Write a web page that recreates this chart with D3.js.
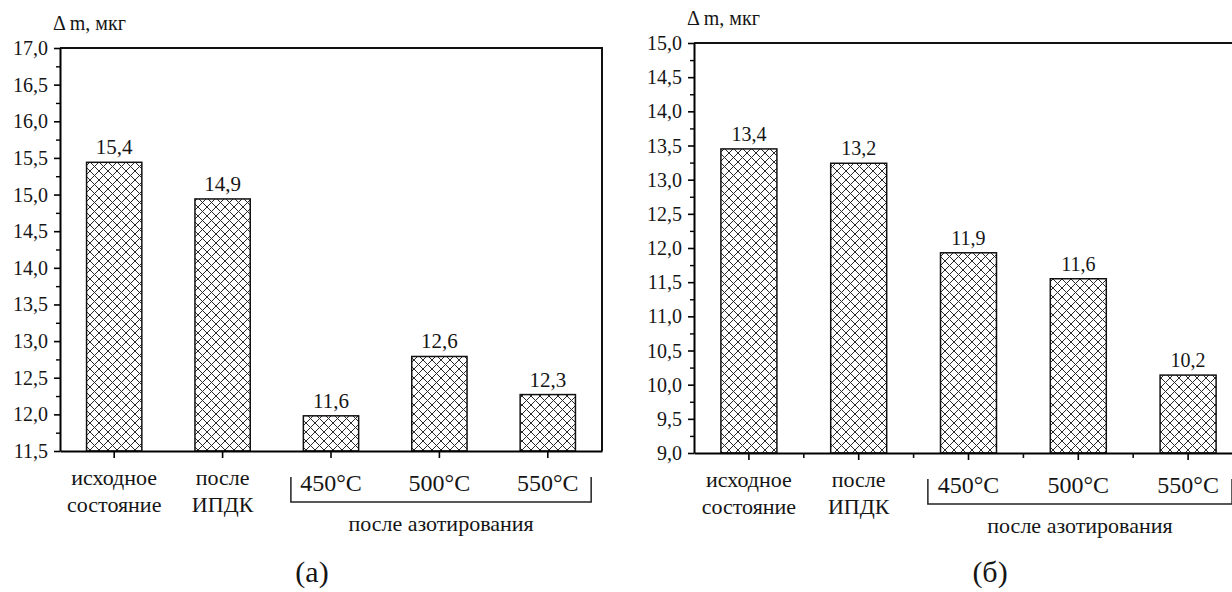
<!DOCTYPE html>
<head>
  <meta charset="utf-8">
  <script src="https://d3js.org/d3.v7.min.js"></script>
</head>
<body style="margin:0">
  <svg id="chart" width="1232" height="592"></svg>

  <script>

    // categories (label lines) shared by both panels
    var categories = [["исходное", "состояние"], ["после", "ИПДК"], ["450°C"], ["500°C"], ["550°C"]];
    var groupLabel = "после азотирования";
    var yTitle = "Δ m, мкг";

    // panel (а)
    var valuesA = [15.44, 14.94, 11.98, 12.79, 12.27];
    var labelsA = ["15,4", "14,9", "11,6", "12,6", "12,3"];
    var ticksA = [11.5, 12.0, 12.5, 13.0, 13.5, 14.0, 14.5, 15.0, 15.5, 16.0, 16.5, 17.0];

    // panel (б)
    var valuesB = [13.45, 13.24, 11.93, 11.55, 10.14];
    var labelsB = ["13,4", "13,2", "11,9", "11,6", "10,2"];
    var ticksB = [9.0, 9.5, 10.0, 10.5, 11.0, 11.5, 12.0, 12.5, 13.0, 13.5, 14.0, 14.5, 15.0];

    var captions = ["(а)", "(б)"];

    var svg = d3.select('#chart');
    var texts = [];   // all texts are collected here and drawn at the end

    // comma decimal separator
    var fmt = d3.formatLocale({ decimal: ",", thousands: " ", grouping: [3], currency: ["", ""] }).format(".1f");

    function label(x, y, size, anchor, s) {
      texts.push({ x: x, y: y, size: size, anchor: anchor, s: s });
    }

    // crosshatch pattern
    var pat = svg.append('defs').append('pattern')
      .attr('id', 'hatch')
      .attr('patternUnits', 'userSpaceOnUse')
      .attr('width', 9)
      .attr('height', 9);
    pat.append('rect').attr('width', 9).attr('height', 9).attr('fill', '#fff');
    pat.append('path')
      .attr('d', 'M0,0L9,9M9,0L0,9')
      .attr('stroke', '#2a2a2a')
      .attr('stroke-width', 1);

    function drawPanel(p) {
      var g = svg.append('g');
      var ticks = p.ticks;

      var x = d3.scaleBand()
        .domain(d3.range(p.values.length))
        .range([p.left, p.right])
        .paddingInner(0.49)
        .paddingOuter(0.245);

      var y = d3.scaleLinear()
        .domain([ticks[0], ticks[ticks.length - 1]])
        .range([p.bottom, p.top]);

      // bars
      g.selectAll('.bar')
        .data(p.values)
        .enter()
        .append('rect')
          .attr('x', function (d, i) { return x(i); })
          .attr('y', function (d) { return y(d); })
          .attr('width', x.bandwidth())
          .attr('height', function (d) { return y(ticks[0]) - y(d); })
          .attr('fill', 'url(#hatch)')
          .attr('stroke', '#111')
          .attr('stroke-width', 1.5);

      // value labels
      p.values.forEach(function (d, i) {
        label(x(i) + x.bandwidth() / 2, y(d) - 8, p.valueSize, 'middle', p.labels[i]);
      });

      // frame (top and right)
      g.append('path')
        .attr('d', 'M' + p.left + ',' + p.top + 'H' + p.right + 'V' + p.bottom)
        .attr('fill', 'none')
        .attr('stroke', '#111')
        .attr('stroke-width', 2);

      // y axis: lines from d3.axis, numbers placed from the same scale
      var yAxis = g.append('g')
        .attr('transform', 'translate(' + p.left + ',0)')
        .call(d3.axisLeft(y).tickValues(ticks).tickSize(6).tickSizeOuter(0).tickFormat(''));
      yAxis.select('.domain').attr('stroke-width', 2);
      yAxis.selectAll('line').attr('stroke-width', 1.6);
      ticks.forEach(function (t) {
        label(p.left - 12, y(t) + 7, 20, 'end', fmt(t));
      });

      var minor = d3.pairs(ticks).map(function (t) { return (t[0] + t[1]) / 2; });
      g.append('g')
        .attr('transform', 'translate(' + p.left + ',0)')
        .call(d3.axisLeft(y).tickValues(minor).tickSize(4).tickFormat(''))
        .call(function (a) { a.select('.domain').remove(); a.selectAll('line').attr('stroke-width', 1.4); });

      // x axis
      var xAxis = g.append('g')
        .attr('transform', 'translate(0,' + p.bottom + ')')
        .call(d3.axisBottom(x).tickSize(7).tickSizeOuter(0).tickFormat(''));
      xAxis.select('.domain').attr('stroke-width', 2);
      xAxis.selectAll('line').attr('stroke-width', 1.6);

      if (p.minorX) {
        var bounds = d3.range(1, p.values.length).map(function (i) { return x(i) - x.step() * x.paddingInner() / 2; });
        g.selectAll('.mx')
          .data(bounds)
          .enter()
          .append('line')
            .attr('x1', function (d) { return d; })
            .attr('x2', function (d) { return d; })
            .attr('y1', p.bottom)
            .attr('y2', p.bottom + 5)
            .attr('stroke', '#111')
            .attr('stroke-width', 1.6);
      }

      // category labels
      categories.forEach(function (lines, i) {
        lines.forEach(function (s, k) {
          label(x(i) + x.bandwidth() / 2,
            lines.length > 1 ? p.bottom + 34 + k * 27 : p.bottom + 40,
            lines.length > 1 ? 22 : 24, 'middle', s);
        });
      });

      // bracket for the nitrided group
      var bx0 = x(2) + x.bandwidth() / 2 - x.step() * 0.37;
      var bx1 = x(4) + x.bandwidth() / 2 + x.step() * 0.40;
      var by = p.bottom + 51;
      g.append('path')
        .attr('d', 'M' + bx0 + ',' + (by - 25) + 'V' + by + 'H' + bx1 + 'V' + (by - 25))
        .attr('fill', 'none')
        .attr('stroke', '#222')
        .attr('stroke-width', 1.5);
      label((bx0 + bx1) / 2, by + 29, 22, 'middle', groupLabel);

      // axis title
      label(p.left - 7, p.top - 18, 20, 'start', yTitle);

      // caption
      label(p.captionX, 582, 30, 'middle', p.caption);
    }

    drawPanel({
      values: valuesA, labels: labelsA, ticks: ticksA,
      left: 60, right: 602, top: 48, bottom: 451,
      valueSize: 21, minorX: false, caption: captions[0], captionX: 312
    });

    drawPanel({
      values: valuesB, labels: labelsB, ticks: ticksB,
      left: 694, right: 1243, top: 43, bottom: 453,
      valueSize: 20, minorX: true, caption: captions[1], captionX: 990
    });

    // all texts in one join, serif face on each element
    svg.selectAll('text.lbl')
      .data(texts)
      .enter()
      .append('text')
        .attr('class', 'lbl')
        .attr('x', function (d) { return d.x; })
        .attr('y', function (d) { return d.y; })
        .attr('font-size', function (d) { return d.size; })
        .attr('font-family', 'serif')
        .style('font-family', 'Liberation Serif, Times New Roman, DejaVu Serif, serif', 'important')
        .attr('text-anchor', function (d) { return d.anchor; })
        .attr('fill', '#151515')
        .text(function (d) { return d.s; });
  </script>
</body>
